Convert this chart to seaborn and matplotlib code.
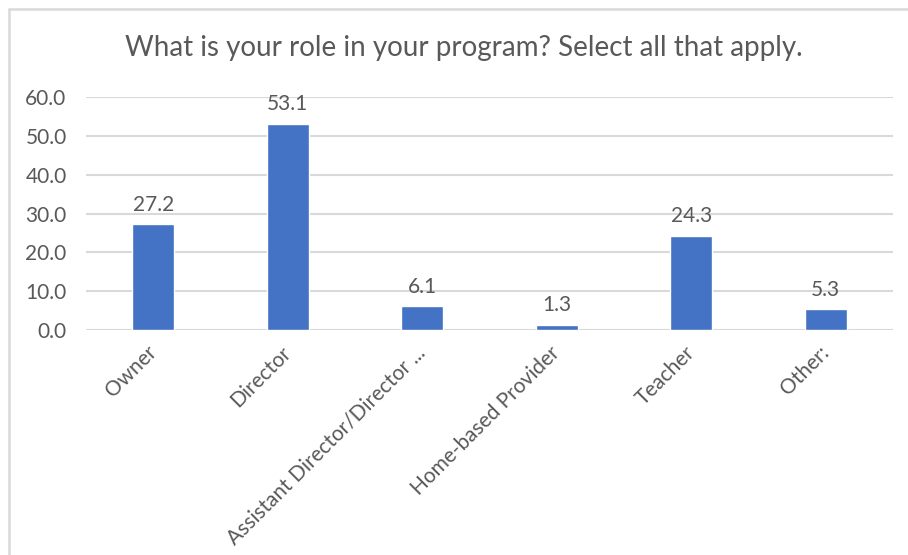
import matplotlib
matplotlib.use("Agg")
import matplotlib.pyplot as plt
import seaborn as sns
import pandas as pd
from matplotlib.patches import Rectangle

categories = ["Owner", "Director", "Assistant Director/Director ...",
              "Home-based Provider", "Teacher", "Other:"]
values = [27.2, 53.1, 6.1, 1.3, 24.3, 5.3]
y_ticks = [0, 10, 20, 30, 40, 50, 60]
title = "What is your role in your program? Select all that apply."

sns.set_theme(style="white")
plt.rcParams["font.family"] = ["Lato", "DejaVu Sans"]

text_color = "#595959"
grid_color = "#D9D9D9"
bar_color = "#4472C4"

df = pd.DataFrame({"role": categories, "pct": values})

fig = plt.figure(figsize=(9.08, 5.55), dpi=100)
ax = fig.add_axes([86 / 908, 1 - 330 / 555, (893 - 86) / 908, (330 - 97) / 555])

sns.barplot(data=df, x="role", y="pct", color=bar_color, width=0.31,
            saturation=1, ax=ax, zorder=3)

ax.set_ylim(0, 60)
ax.set_xlim(-0.5, len(categories) - 0.5)
ax.set_yticks(y_ticks)
ax.set_yticklabels([f"{t:.1f}" for t in y_ticks])
for t in y_ticks:
    ax.axhline(t, color=grid_color, lw=1.5, zorder=1)

for s in ax.spines.values():
    s.set_visible(False)
ax.set_xlabel("")
ax.set_ylabel("")
ax.tick_params(axis="both", length=0, colors=text_color, labelsize=15)
ax.tick_params(axis="y", pad=14)
ax.tick_params(axis="x", pad=14)
for lbl in ax.get_xticklabels():
    lbl.set_rotation(45)
    lbl.set_ha("right")
    lbl.set_va("center")
    lbl.set_rotation_mode("anchor")

for i, v in enumerate(values):
    ax.annotate(f"{v:.1f}", (i, v), xytext=(0, 7), textcoords="offset points",
                ha="center", va="bottom", fontsize=15, color=text_color)

fig.text((122 + 806) / 2 / 908, 1 - 48 / 555, title, ha="center", va="center",
         fontsize=20, color=text_color)

# chart area frame
fig.patches.append(Rectangle((8.5 / 908, -0.05), 1.2, 1 - 8.5 / 555 + 0.05,
                             transform=fig.transFigure, fill=False,
                             edgecolor=grid_color, lw=1.8))

fig.savefig("out.png", dpi=100, facecolor="white")
